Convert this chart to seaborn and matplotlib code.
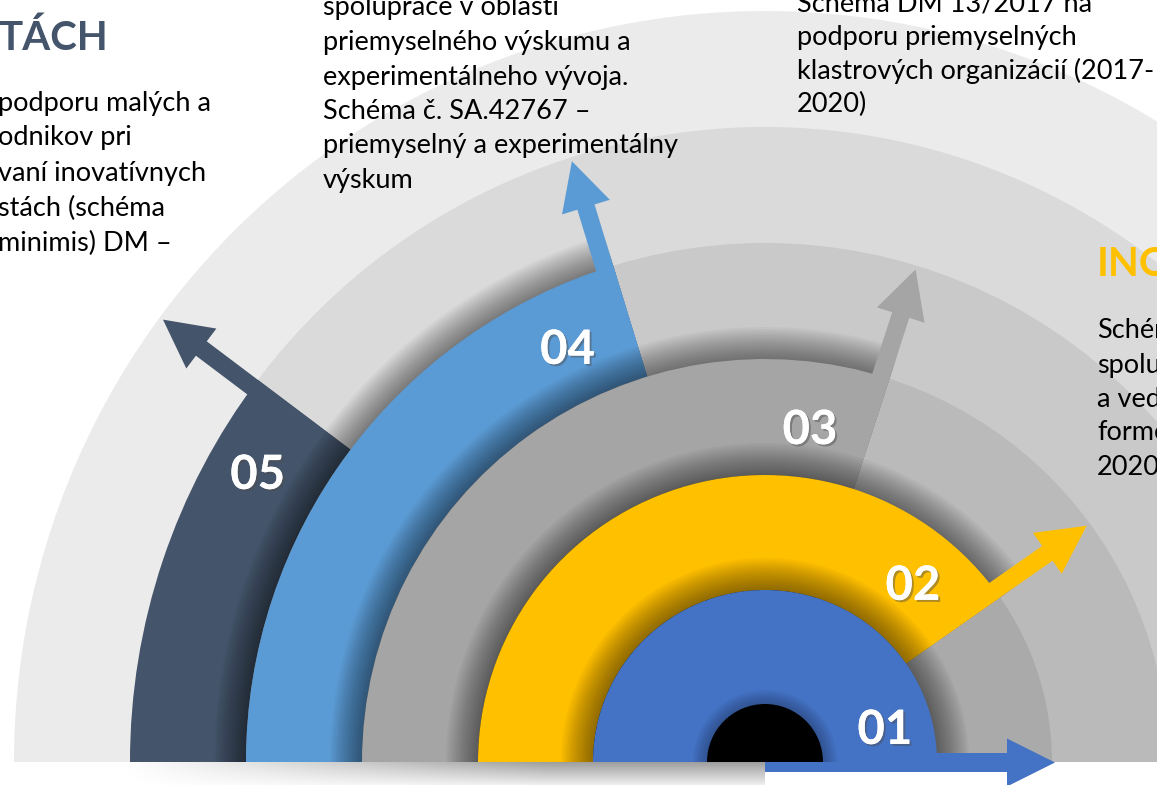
import numpy as np
import seaborn as sns
import matplotlib.pyplot as plt
from matplotlib.patches import Wedge, Polygon
from matplotlib import patheffects

W, H = 1157, 785
CX, CY = 765, H - 762          # hub centre, y measured upward

# --- data ---------------------------------------------------------------
steps = ["01", "02", "03", "04", "05"]
step_colors = ["#4472c4", "#ffc000", "#a5a5a5", "#5b9bd5", "#44546a"]
step_radius = [172, 287, 403, 519, 635]
step_end_angle = [0, 35, 72, 107, 143]
band_radius = [751, 635, 519, 403, 287]
band_colors = ["#ebebeb", "#dadada", "#c9c9c9", "#bababa", "#aaaaaa"]
hub_radius = 58

left_title = "TÁCH"
left_lines = ["podporu malých a", "odnikov pri", "vaní inovatívnych",
              "stách (schéma", "minimis) DM –"]
mid_lines = ["spolupráce v oblasti", "priemyselného výskumu a",
             "experimentálneho vývoja.", "Schéma č. SA.42767 –",
             "priemyselný a experimentálny", "výskum"]
right_lines = ["Schéma DM 13/2017 na", "podporu priemyselných",
               "klastrových organizácií (2017-", "2020)"]
far_title = "INO"
far_lines = ["Schéma", "spolupráce", "a vedy", "forme", "2020)"]

# --- layout -------------------------------------------------------------
label_angle = [15, 50, 82.3, 115.6, 150.5]
label_r = [124, 230, 335, 457, 583]
FONT = "Lato"

sns.set_theme(style="white")
plt.rcParams["font.family"] = [FONT, "DejaVu Sans"]

fig = plt.figure(figsize=(W / 100, H / 100), dpi=100)
ax = fig.add_axes([0, 0, 1, 1])
ax.set_xlim(0, W)
ax.set_ylim(0, H)
ax.set_axis_off()

centre = np.array([CX, CY], dtype=float)


def shadow(theta1, r, width=32, n=16, a=0.03):
    for i in range(n, 0, -1):
        ax.add_patch(Wedge(centre, r + width * i / n, theta1, 180,
                           facecolor="black", alpha=a, lw=0))


def arrow(theta, r0, r1, o1, o2, color, hw=25, hl=48):
    t = np.radians(theta)
    u = np.array([np.cos(t), np.sin(t)])
    nrm = np.array([-np.sin(t), np.cos(t)])
    m = (o1 + o2) / 2
    rb = r1 - hl
    pts = [centre + r0 * u + o1 * nrm, centre + rb * u + o1 * nrm,
           centre + rb * u + (m - hw) * nrm, centre + r1 * u + m * nrm,
           centre + rb * u + (m + hw) * nrm, centre + rb * u + o2 * nrm,
           centre + r0 * u + o2 * nrm]
    ax.add_patch(Polygon(pts, closed=True, facecolor=color, lw=0))


# background bands
for r, c in zip(band_radius, band_colors):
    ax.add_patch(Wedge(centre, r, 0, 180, facecolor=c, lw=0))

# soft shadow under the base line
grad = np.linspace(0.38, 0, 30)[:, None] * np.clip(np.linspace(0, 1.5, 300), 0, 1)[None, :]
rgba = np.zeros(grad.shape + (4,))
rgba[..., 3] = grad
ax.imshow(rgba, extent=(120, CX, CY - 28, CY), aspect="auto", zorder=0.5)

# coloured arcs, outer to inner
inner = [0] + step_radius[:-1]
for k in range(len(steps) - 1, -1, -1):
    if k < len(steps) - 1:
        shadow(step_end_angle[k], step_radius[k])
    ax.add_patch(Wedge(centre, step_radius[k], step_end_angle[k], 180,
                       width=step_radius[k] - inner[k],
                       facecolor=step_colors[k], lw=0))
    tip = band_radius[::-1][k]
    if k == 0:
        arrow(0, 0, tip + 3, -10, 9, step_colors[k], hw=24)
    else:
        arrow(step_end_angle[k], inner[k], tip - 4, 0, 18, step_colors[k])

shadow(0, hub_radius, width=14, n=8, a=0.03)
ax.add_patch(Wedge(centre, hub_radius, 0, 180, facecolor="black", lw=0))

# step numbers
num_fx = [patheffects.withSimplePatchShadow(offset=(1.5, -1.5), alpha=0.45),
          patheffects.Normal()]
for k, lab in enumerate(steps):
    t = np.radians(label_angle[k])
    ax.text(CX + label_r[k] * np.cos(t), CY + label_r[k] * np.sin(t), lab,
            color="white", fontsize=34, fontweight="bold",
            ha="center", va="center", path_effects=num_fx)


# text blocks
def block(x, y0, lines, step=34.5, size=19.5):
    for i, s in enumerate(lines):
        ax.text(x, H - (y0 + i * step), s, fontsize=size, color="black",
                ha="left", va="center")


ax.text(-2, H - 38, left_title, fontsize=29, fontweight="bold",
        color="#44546a", ha="left", va="center")
block(-2, 103, left_lines, step=35)
block(323, 8, mid_lines)
block(797, 4, right_lines, step=33.5)
ax.text(1097, H - 265, far_title, fontsize=29, fontweight="bold",
        color="#ffc000", ha="left", va="center")
block(1097, 331, far_lines, step=34)

fig.savefig("out.png", dpi=100)
